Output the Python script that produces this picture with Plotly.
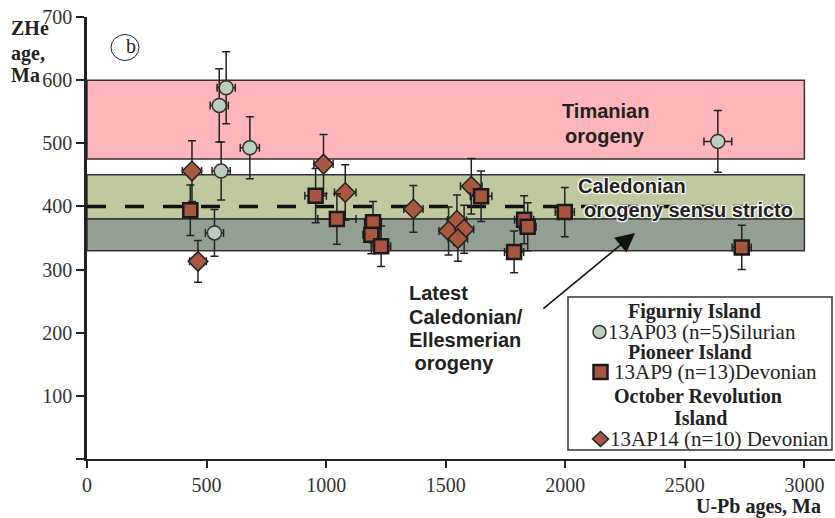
import plotly.graph_objects as go

# ---------------- data ----------------
fig_x = [582, 553, 681, 561, 533, 2638]
fig_y = [588, 560, 493, 456, 358, 503]
fig_yerr = [57, 58, 49, 46, 37, 49]
fig_xerr = [38, 38, 40, 38, 38, 58]

pio_x = [432, 956, 1045, 1196, 1189, 1230, 1648, 1828, 1843, 1786, 1998, 2738]
pio_y = [394, 417, 380, 375, 355, 337, 416, 379, 368, 328, 391, 335]
pio_yerr = [40, 43, 40, 33, 30, 32, 40, 38, 38, 33, 39, 35]
pio_xerr = [30, 45, 80, 35, 35, 40, 45, 40, 35, 40, 40, 40]

oct_x = [439, 464, 989, 1080, 1365, 1607, 1547, 1512, 1577, 1551]
oct_y = [456, 313, 467, 422, 396, 432, 378, 361, 364, 349]
oct_yerr = [48, 33, 47, 44, 37, 44, 40, 38, 38, 36]
oct_xerr = [40, 35, 40, 45, 40, 45, 40, 40, 40, 40]

bands_lo = [475, 380, 330]
bands_hi = [600, 450, 380]
band_colors = ["#FFB6BB", "#BFC89F", "#949F93"]
sensu_stricto_age = 400
band_x_max = 3000

x_ticks = [0, 500, 1000, 1500, 2000, 2500, 3000]
y_ticks = [0, 100, 200, 300, 400, 500, 600, 700]
y_ticktext = ["", "100", "200", "300", "400", "500", "600", "700"]

# ---------------- layout geometry ----------------
W, H = 835, 518
ML, MR, MT, MB = 87, 0, 17, 59
PW, PH = W - ML - MR, H - MT - MB

SERIF = "Liberation Serif, Times New Roman, serif"
SANS = "Liberation Sans, Arial, sans-serif"
DARK = "#222222"


def px2paper(px, py):
    return (px - ML) / PW, (H - MB - py) / PH


fig = go.Figure()

err_style = dict(color=DARK, thickness=1.5, width=4)

fig.add_trace(go.Scatter(
    x=fig_x, y=fig_y, mode="markers", name="13AP03",
    error_y=dict(type="data", array=fig_yerr, **err_style),
    error_x=dict(type="data", array=fig_xerr, **err_style),
    marker=dict(symbol="circle", size=14, color="#BACEBF",
                line=dict(color="#333333", width=1.5)),
))
fig.add_trace(go.Scatter(
    x=oct_x, y=oct_y, mode="markers", name="13AP14",
    error_y=dict(type="data", array=oct_yerr, **err_style),
    error_x=dict(type="data", array=oct_xerr, **err_style),
    marker=dict(symbol="diamond", size=15, color="#A85840",
                line=dict(color="#222222", width=1.5)),
))
fig.add_trace(go.Scatter(
    x=pio_x, y=pio_y, mode="markers", name="13AP9",
    error_y=dict(type="data", array=pio_yerr, **err_style),
    error_x=dict(type="data", array=pio_xerr, **err_style),
    marker=dict(symbol="square", size=14, color="#A85540",
                line=dict(color="#1a1a1a", width=2.5)),
))

shapes = []
for lo, hi, c in zip(bands_lo, bands_hi, band_colors):
    shapes.append(dict(type="rect", xref="x", yref="y", x0=0, x1=band_x_max,
                       y0=lo, y1=hi, fillcolor=c,
                       line=dict(color="#333333", width=1.5), layer="below"))
shapes.append(dict(type="line", xref="x", yref="y", x0=0, x1=band_x_max,
                   y0=sensu_stricto_age, y1=sensu_stricto_age,
                   line=dict(color="#111111", width=3.5, dash="19px,19px"),
                   layer="below"))

# (b) label circle
cx, cy = px2paper(125, 47.5)
shapes.append(dict(type="circle", xref="paper", yref="paper", xsizemode="pixel",
                   ysizemode="pixel", xanchor=cx, yanchor=cy,
                   x0=-14, x1=14, y0=-13, y1=13,
                   line=dict(color="#222222", width=1), fillcolor="rgba(0,0,0,0)"))

# legend box
lx0, ly0 = px2paper(568, 450)
lx1, ly1 = px2paper(832, 297)
shapes.append(dict(type="rect", xref="paper", yref="paper", x0=lx0, x1=lx1,
                   y0=ly0, y1=ly1, fillcolor="white",
                   line=dict(color="#333333", width=1.5), layer="above"))
# legend symbols
sx, sy = px2paper(599.5, 332)
shapes.append(dict(type="circle", xref="paper", yref="paper", xsizemode="pixel",
                   ysizemode="pixel", xanchor=sx, yanchor=sy,
                   x0=-6.5, x1=6.5, y0=-6.5, y1=6.5, fillcolor="#BACEBF",
                   line=dict(color="#333333", width=1.5), layer="above"))
sx, sy = px2paper(600.5, 372)
shapes.append(dict(type="rect", xref="paper", yref="paper", xsizemode="pixel",
                   ysizemode="pixel", xanchor=sx, yanchor=sy,
                   x0=-7, x1=7, y0=-7, y1=7, fillcolor="#A85540",
                   line=dict(color="#1a1a1a", width=2.5), layer="above"))
sx, sy = px2paper(600.5, 439)
shapes.append(dict(type="path", xref="paper", yref="paper", xsizemode="pixel",
                   ysizemode="pixel", xanchor=sx, yanchor=sy,
                   path="M -8 0 L 0 7.5 L 8 0 L 0 -7.5 Z", fillcolor="#A85840",
                   line=dict(color="#222222", width=1.5), layer="above"))

annotations = []


def ann(text, px, py, size=20, family=SERIF, bold=False, xanchor="left",
        color=DARK, shadow=None):
    xp, yp = px2paper(px, py)
    f = dict(family=family, size=size, color=color,
             weight="bold" if bold else "normal")
    if shadow:
        f["shadow"] = shadow
    annotations.append(dict(text=text, x=xp, y=yp, xref="paper", yref="paper",
                            xanchor=xanchor, yanchor="middle", showarrow=False,
                            font=f, borderpad=0))


halo = ("-1px -1px 1px #fff, 1px -1px 1px #fff, -1px 1px 1px #fff, "
        "1px 1px 1px #fff, 0 0 2px #fff")

# y title
ann("ZHe", 10, 28, bold=True)
ann("age,", 10, 53, bold=True)
ann("Ma", 10, 75, bold=True)
# x title
ann("U-Pb ages, Ma", 822, 506, bold=True, xanchor="right")
# (b)
ann("b", 125, 46.5, size=20)
# Timanian
ann("Timanian", 605, 111, family=SANS, bold=True, xanchor="center")
ann("orogeny", 605, 136, family=SANS, bold=True, xanchor="center")
# Caledonian
ann("Caledonian", 577, 186, family=SANS, bold=True, shadow=halo)
ann("orogeny sensu stricto", 583, 210, family=SANS, bold=True, shadow=halo)
# Latest
ann("Latest", 408, 293, family=SANS, bold=True)
ann("Caledonian/", 408, 317, family=SANS, bold=True)
ann("Ellesmerian", 408, 340, family=SANS, bold=True)
ann("\u00a0orogeny", 408, 363, family=SANS, bold=True)
# legend text
ann("Figurniy Island", 694, 311, bold=True, xanchor="center")
ann("13AP03 (n=5)Silurian", 607, 332, size=21)
ann("Pioneer Island", 690, 352, bold=True, xanchor="center")
ann("13AP9 (n=13)Devonian", 613, 372, size=21)
ann("October Revolution", 698, 396, bold=True, xanchor="center")
ann("Island", 700, 418, bold=True, xanchor="center")
ann("13AP14 (n=10) Devonian", 609, 439, size=21)

# arrow
annotations.append(dict(x=2292, y=358, ax=1902, ay=236, xref="x", yref="y",
                        axref="x", ayref="y", text="", showarrow=True,
                        arrowhead=2, arrowsize=2.4, arrowwidth=1.6,
                        arrowcolor="#111111", standoff=0))

fig.update_layout(
    width=W, height=H, autosize=False,
    margin=dict(l=ML, r=MR, t=MT, b=MB, pad=0),
    paper_bgcolor="white", plot_bgcolor="white",
    showlegend=False,
    shapes=shapes, annotations=annotations,
    xaxis=dict(range=[0, 3128], showline=True, linecolor=DARK, linewidth=2,
               ticks="outside", ticklen=7, tickwidth=1.5, tickcolor=DARK,
               tickvals=x_ticks, showgrid=False, zeroline=False,
               tickfont=dict(family=SERIF, size=20, color="#333333")),
    yaxis=dict(range=[0, 700], showline=True, linecolor=DARK, linewidth=2.5,
               ticks="outside", ticklen=8, tickwidth=1.5, tickcolor=DARK,
               tickvals=y_ticks, ticktext=y_ticktext, showgrid=False,
               zeroline=False,
               tickfont=dict(family=SERIF, size=20, color="#333333")),
)

fig.write_html("out.html", config=dict(displayModeBar=False),
               post_script="document.body.style.margin='0';"
                           "document.body.style.overflow='hidden';")
